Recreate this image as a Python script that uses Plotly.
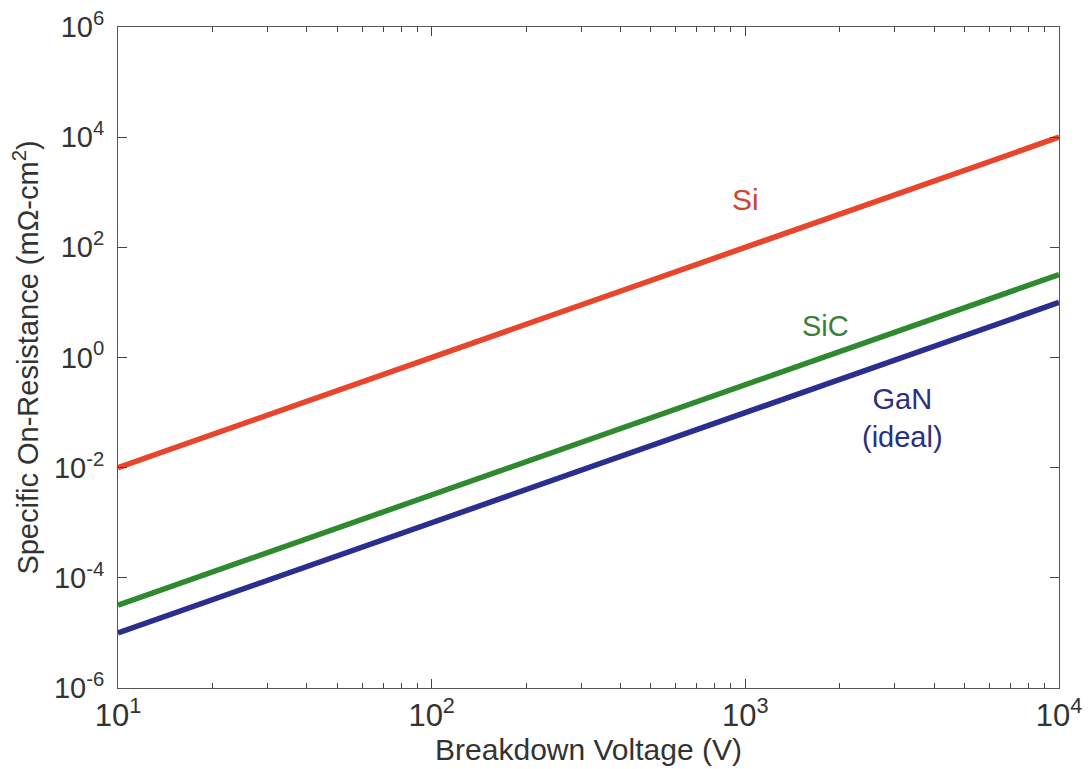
import plotly.graph_objects as go

voltage = [10, 100, 1000, 10000]
si = [1.0e-2, 1.0, 1.0e2, 1.0e4]
sic = [3.2e-5, 3.2e-3, 0.32, 32]
gan = [1.0e-5, 1.0e-3, 0.1, 10]

x_tickvals = [10, 100, 1000, 10000]
x_ticktext = ["10<sup>1</sup>", "10<sup>2</sup>", "10<sup>3</sup>", "10<sup>4</sup>"]
y_tickvals = [1e-6, 1e-4, 1e-2, 1, 1e2, 1e4, 1e6]
y_ticktext = ["10<sup>-6</sup>", "10<sup>-4</sup>", "10<sup>-2</sup>", "10<sup>0</sup>",
              "10<sup>2</sup>", "10<sup>4</sup>", "10<sup>6</sup>"]
x_minor = [m * 10 ** e for e in range(1, 4) for m in range(2, 10)]

FONT = "Liberation Sans, Arial, sans-serif"

fig = go.Figure()
fig.add_trace(go.Scatter(x=voltage, y=si, mode="lines", name="Si",
                         line=dict(color="#e8452c", width=5.5)))
fig.add_trace(go.Scatter(x=voltage, y=sic, mode="lines", name="SiC",
                         line=dict(color="#2f8a2f", width=5.5)))
fig.add_trace(go.Scatter(x=voltage, y=gan, mode="lines", name="GaN (ideal)",
                         line=dict(color="#2a2e8e", width=5.5)))

fig.add_annotation(x=3.0, y=2.86, xref="x", yref="y", text="Si", showarrow=False,
                   font=dict(family=FONT, size=30, color="#d4432c"))
fig.add_annotation(x=3.257, y=0.57, xref="x", yref="y", text="SiC", showarrow=False,
                   font=dict(family=FONT, size=29, color="#3a7f38"))
fig.add_annotation(x=3.50, y=-1.10, xref="x", yref="y", text="GaN<br>(ideal)", showarrow=False,
                   align="center", font=dict(family=FONT, size=29, color="#2c2f80"))

fig.update_layout(
    width=1082, height=761,
    margin=dict(l=110, r=31, t=19, b=81),
    plot_bgcolor="white", paper_bgcolor="white",
    showlegend=False,
    font=dict(family=FONT, size=30, color="#333333"),
    xaxis=dict(
        type="log", range=[1, 4], automargin=False,
        tickvals=x_tickvals, ticktext=x_ticktext,
        ticks="inside", ticklen=9, tickcolor="#444", tickwidth=1,
        ticklabeloverflow="allow",
        minor=dict(ticks="inside", ticklen=5, tickcolor="#444", tickvals=x_minor),
        showline=True, linecolor="#555", linewidth=1, mirror="ticks",
        showgrid=False, zeroline=False,
        tickfont=dict(size=31, color="#333"),
        title=dict(text="Breakdown Voltage (V)", font=dict(size=30, color="#333"), standoff=0),
    ),
    yaxis=dict(
        type="log", range=[-6, 6], automargin=False,
        tickvals=y_tickvals, ticktext=y_ticktext,
        ticks="inside", ticklen=9, tickcolor="#444", tickwidth=1,
        ticklabelstandoff=7, ticklabeloverflow="allow",
        showline=True, linecolor="#555", linewidth=1, mirror="ticks",
        showgrid=False, zeroline=False,
        tickfont=dict(size=29, color="#333"),
        title=dict(text="Specific On-Resistance (mΩ-cm<sup>2</sup>)", font=dict(size=29, color="#333")),
    ),
)

fig.write_html("out.html")
